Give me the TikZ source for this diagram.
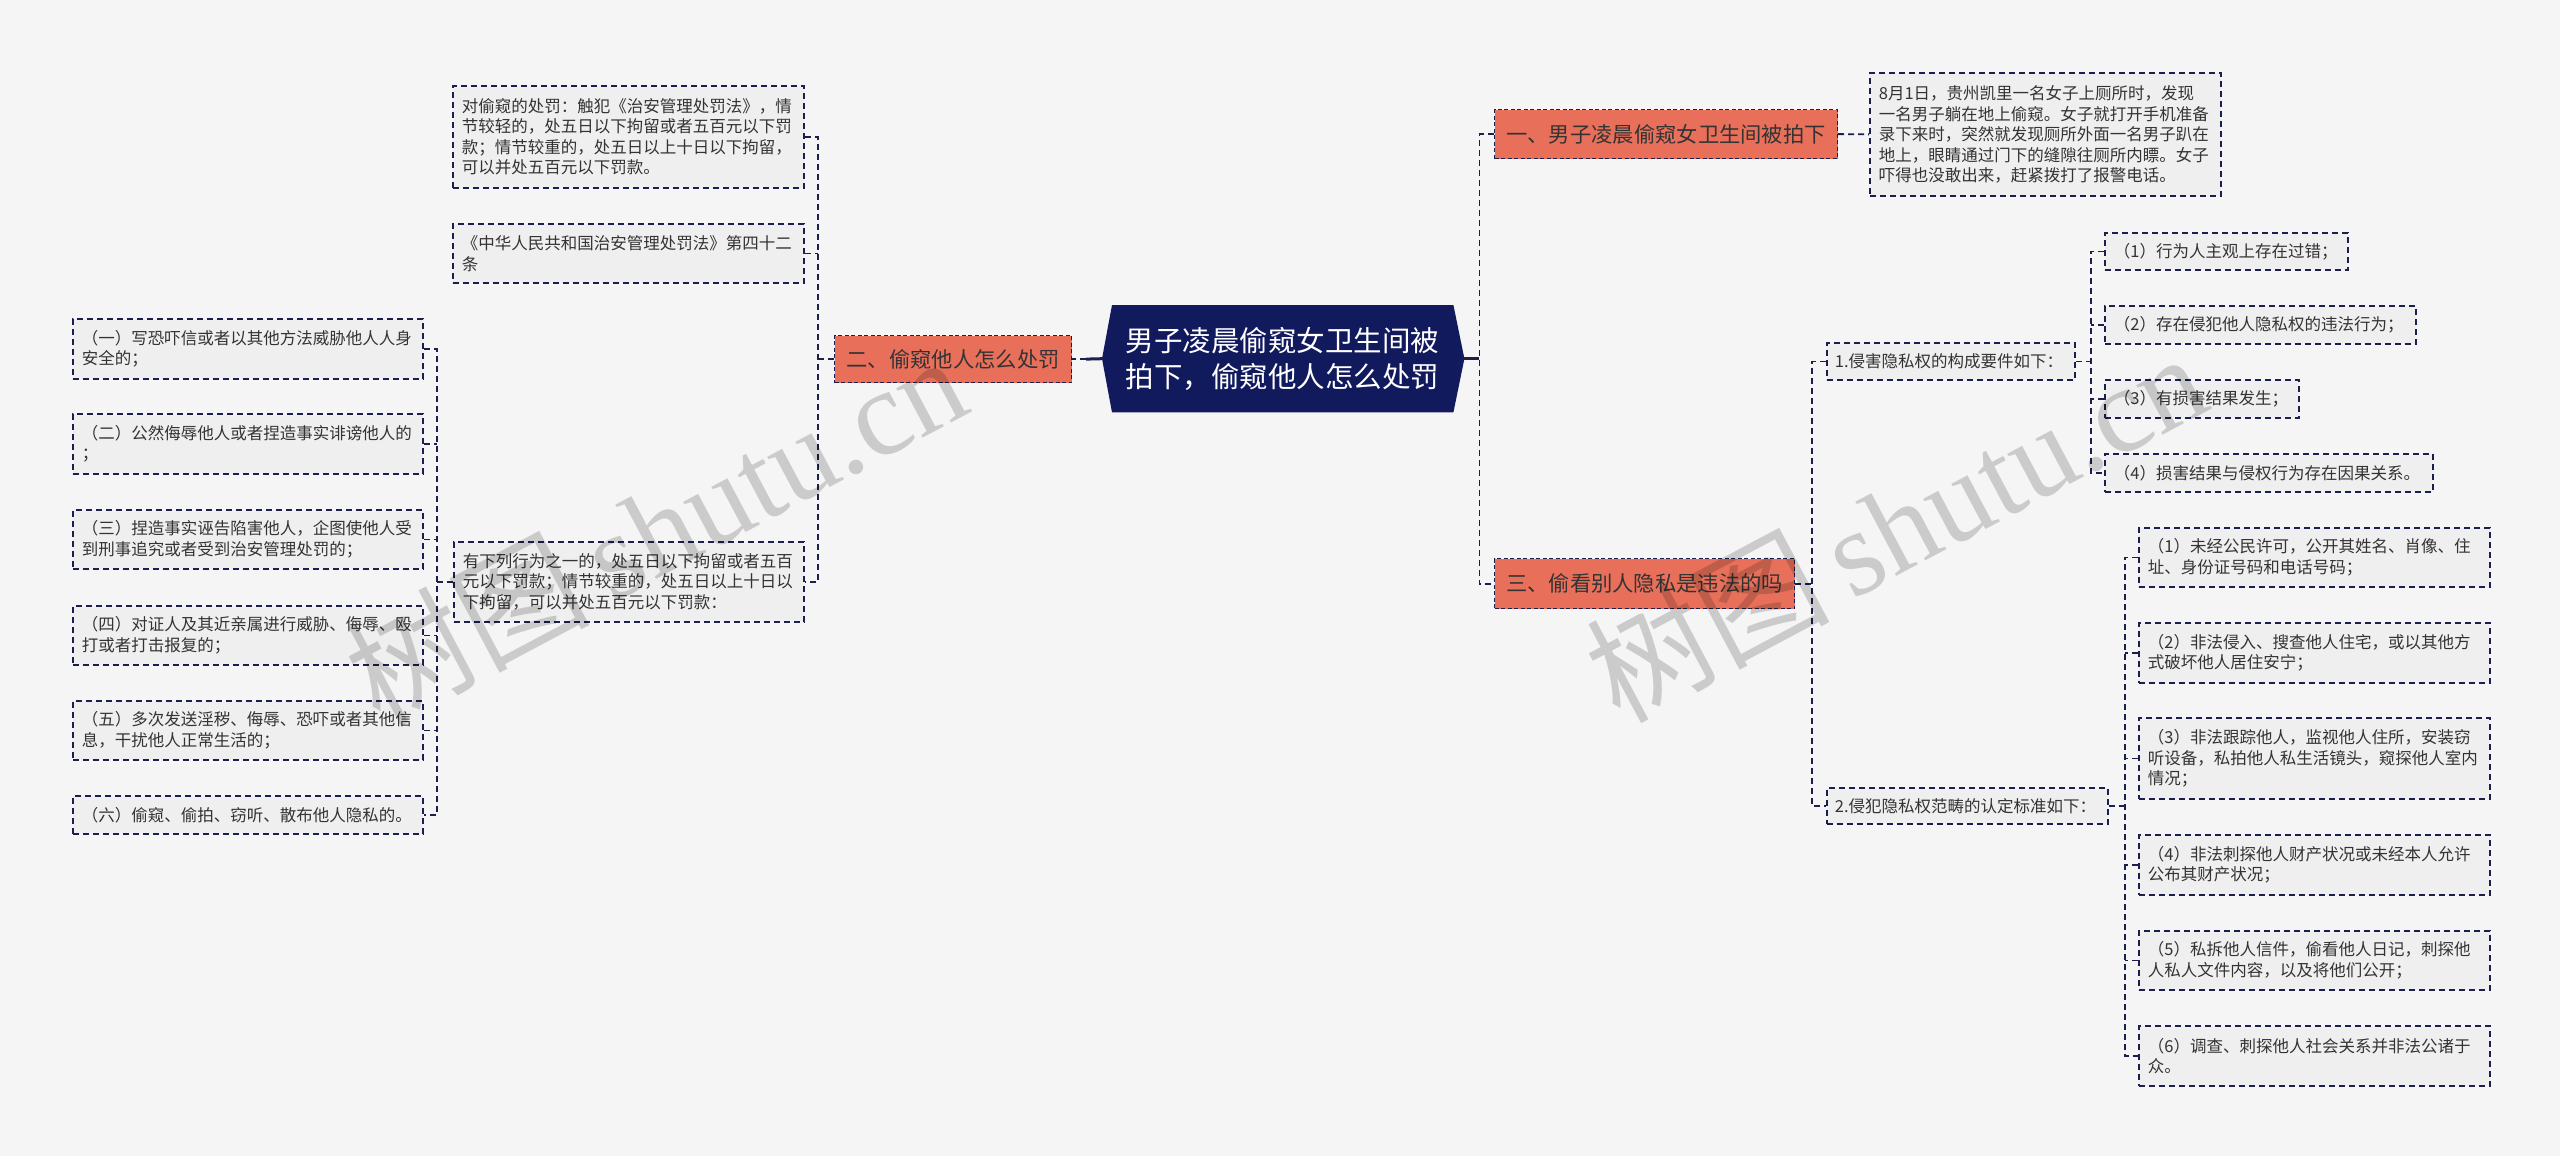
\documentclass[tikz,border=0pt]{standalone}
\usepackage{fontspec}
\setmainfont{Noto Sans CJK SC}
\newfontfamily\wmserif{Liberation Serif}
\usetikzlibrary{calc,backgrounds}
\definecolor{bg}{HTML}{F5F5F5}
\definecolor{navy}{HTML}{1A1F4E}
\definecolor{centerfill}{HTML}{121A5E}
\definecolor{branchfill}{HTML}{E8705A}
\definecolor{leaffill}{HTML}{EFEFEF}
\definecolor{txt}{HTML}{333333}
\tikzset{
  conn/.style={draw=navy, line width=1.8pt, dash pattern=on 6pt off 4pt},
  trunk/.style={draw=navy, line width=3pt},
  leaf/.style={draw=navy, line width=1.8pt, dash pattern=on 6pt off 4pt, fill=leaffill, text=txt,
    inner sep=0pt, align=left, anchor=north west, font=\fontsize{16.5pt}{20.5pt}\selectfont},
  branch/.style={draw=navy, line width=1.2pt, dash pattern=on 4pt off 2.5pt, fill=branchfill, text=txt,
    inner sep=0pt, anchor=north west, font=\fontsize{21.3pt}{26pt}\selectfont},
  wm/.style={text=black, text opacity=0.17, rotate=28, inner sep=0pt, font=\fontsize{122pt}{122pt}\selectfont},
}
\begin{document}
\begin{tikzpicture}[x=1pt,y=-1pt]
\begin{scope}[on background layer]
  \fill[bg] (0,0) rectangle (2560,1156);
\end{scope}
\useasboundingbox (0,0) rectangle (2560,1156);

% center
\node[inner sep=0pt, minimum width=341pt, minimum height=107pt, anchor=north west, text=white, align=center,
  font=\fontsize{28.5pt}{36pt}\selectfont] (M) at (1112,305) {男子凌晨偷窥女卫生间被\\拍下，偷窥他人怎么处罚};
\coordinate (mL) at ($(M.west)+(-10,0)$);
\coordinate (mR) at ($(M.east)+(11,0)$);
\begin{scope}[on background layer]
  \fill[centerfill] (mL) -- (M.north west) -- (M.north east) -- (mR) -- (M.south east) -- (M.south west) -- cycle;
\end{scope}

% branches
\node[branch, minimum width=343pt, minimum height=49pt] (B1) at (1494,109) {一、男子凌晨偷窥女卫生间被拍下};
\node[branch, minimum width=237pt, minimum height=47pt] (B2) at (834,335) {二、偷窥他人怎么处罚};
\node[branch, minimum width=300pt, minimum height=50pt] (B3) at (1494,558) {三、偷看别人隐私是违法的吗};

% left side
\node[leaf, minimum width=351pt, minimum height=102pt, text width=333pt] (A) at (452,85)
  {对偷窥的处罚：触犯《治安管理处罚法》，情\\节较轻的，处五日以下拘留或者五百元以下罚\\款；情节较重的，处五日以上十日以下拘留，\\可以并处五百元以下罚款。};
\node[leaf, minimum width=351pt, minimum height=59pt, text width=333pt] (B) at (452,223)
  {《中华人民共和国治安管理处罚法》第四十二\\条};
\node[leaf, minimum width=350pt, minimum height=80pt, text width=332pt] (C) at (453,541)
  {有下列行为之一的，处五日以下拘留或者五百\\元以下罚款；情节较重的，处五日以上十日以\\下拘留，可以并处五百元以下罚款：};

\node[leaf, minimum width=350pt, minimum height=60pt, text width=332pt] (L1) at (72,318)
  {（一）写恐吓信或者以其他方法威胁他人人身\\安全的；};
\node[leaf, minimum width=350pt, minimum height=60pt, text width=332pt] (L2) at (72,413)
  {（二）公然侮辱他人或者捏造事实诽谤他人的\\；};
\node[leaf, minimum width=350pt, minimum height=59pt, text width=332pt] (L3) at (72,509)
  {（三）捏造事实诬告陷害他人，企图使他人受\\到刑事追究或者受到治安管理处罚的；};
\node[leaf, minimum width=350pt, minimum height=59pt, text width=332pt] (L4) at (72,605)
  {（四）对证人及其近亲属进行威胁、侮辱、殴\\打或者打击报复的；};
\node[leaf, minimum width=350pt, minimum height=59pt, text width=332pt] (L5) at (72,700)
  {（五）多次发送淫秽、侮辱、恐吓或者其他信\\息，干扰他人正常生活的；};
\node[leaf, minimum width=350pt, minimum height=38pt, text width=332pt] (L6) at (72,795)
  {（六）偷窥、偷拍、窃听、散布他人隐私的。};

% right side
\node[leaf, minimum width=351pt, minimum height=123pt, text width=333pt] (R0) at (1869,72)
  {8月1日，贵州凯里一名女子上厕所时，发现\\一名男子躺在地上偷窥。女子就打开手机准备\\录下来时，突然就发现厕所外面一名男子趴在\\地上，眼睛通过门下的缝隙往厕所内瞟。女子\\吓得也没敢出来，赶紧拨打了报警电话。};
\node[leaf, minimum width=248pt, minimum height=37pt, text width=232pt] (S1) at (1826,342)
  {1.侵害隐私权的构成要件如下：};
\node[leaf, minimum width=281pt, minimum height=36pt, text width=265pt] (S2) at (1826,787)
  {2.侵犯隐私权范畴的认定标准如下：};

\node[leaf, minimum width=243pt, minimum height=37pt, text width=225pt] (P1) at (2104,232)
  {（1）行为人主观上存在过错；};
\node[leaf, minimum width=311pt, minimum height=38pt, text width=293pt] (P2) at (2104,305)
  {（2）存在侵犯他人隐私权的违法行为；};
\node[leaf, minimum width=194pt, minimum height=38pt, text width=176pt] (P3) at (2104,379)
  {（3）有损害结果发生；};
\node[leaf, minimum width=328pt, minimum height=38pt, text width=310pt] (P4) at (2104,453)
  {（4）损害结果与侵权行为存在因果关系。};

\node[leaf, minimum width=351pt, minimum height=59pt, text width=333pt] (Q1) at (2138,527)
  {（1）未经公民许可，公开其姓名、肖像、住\\址、身份证号码和电话号码；};
\node[leaf, minimum width=351pt, minimum height=60pt, text width=333pt] (Q2) at (2138,622)
  {（2）非法侵入、搜查他人住宅，或以其他方\\式破坏他人居住安宁；};
\node[leaf, minimum width=351pt, minimum height=81pt, text width=333pt] (Q3) at (2138,717)
  {（3）非法跟踪他人，监视他人住所，安装窃\\听设备，私拍他人私生活镜头，窥探他人室内\\情况；};
\node[leaf, minimum width=351pt, minimum height=60pt, text width=333pt] (Q4) at (2138,834)
  {（4）非法刺探他人财产状况或未经本人允许\\公布其财产状况；};
\node[leaf, minimum width=351pt, minimum height=59pt, text width=333pt] (Q5) at (2138,930)
  {（5）私拆他人信件，偷看他人日记，刺探他\\人私人文件内容，以及将他们公开；};
\node[leaf, minimum width=351pt, minimum height=60pt, text width=333pt] (Q6) at (2138,1025)
  {（6）调查、刺探他人社会关系并非法公诸于\\众。};

% connectors: center
\coordinate (cL) at ($(B2.east)+(14,0)$);
\draw[trunk] (mL) -- (cL);
\draw[conn] (cL) -- (B2.east);
\coordinate (tR) at ($(mR)+(15,0)$);
\draw[trunk] (mR) -- (tR);
\draw[conn] (B1.west) -| (tR) |- (B3.west);

% branch 1
\draw[conn] (B1.east) -- (R0.west);

% branch 2
\coordinate (tL) at ($(B2.west)+(-16,0)$);
\draw[conn] (B2.west) -- (tL);
\draw[conn] (A.east) -| (tL) |- (C.east);
\draw[conn] (B.east) -- (B.east -| tL);
\coordinate (t6) at ($(C.west)+(-16,0)$);
\draw[conn] (C.west) -- (t6);
\draw[conn] (L1.east) -| (t6) |- (L6.east);
\foreach \n in {L2,L3,L4,L5} \draw[conn] (\n.east) -- (\n.east -| t6);

% branch 3
\coordinate (t3) at ($(B3.east)+(17,0)$);
\draw[conn] (B3.east) -- (t3);
\draw[conn] (S1.west) -| (t3) |- (S2.west);
\coordinate (t4) at ($(S1.east)+(15,0)$);
\draw[conn] (S1.east) -- (t4);
\draw[conn] (P1.west) -| (t4) |- (P4.west);
\foreach \n in {P2,P3} \draw[conn] (\n.west) -- (\n.west -| t4);
\coordinate (t5) at ($(S2.east)+(16,0)$);
\draw[conn] (S2.east) -- (t5);
\draw[conn] (Q1.west) -| (t5) |- (Q6.west);
\foreach \n in {Q2,Q3,Q4,Q5} \draw[conn] (\n.west) -- (\n.west -| t5);

% watermarks
\node[wm] (wm1) at (655,528) {树图\,{\wmserif shutu.cn}};
\node[wm] (wm2) at (1895,525) {树图\,{\wmserif shutu.cn}};
\end{tikzpicture}
\end{document}
